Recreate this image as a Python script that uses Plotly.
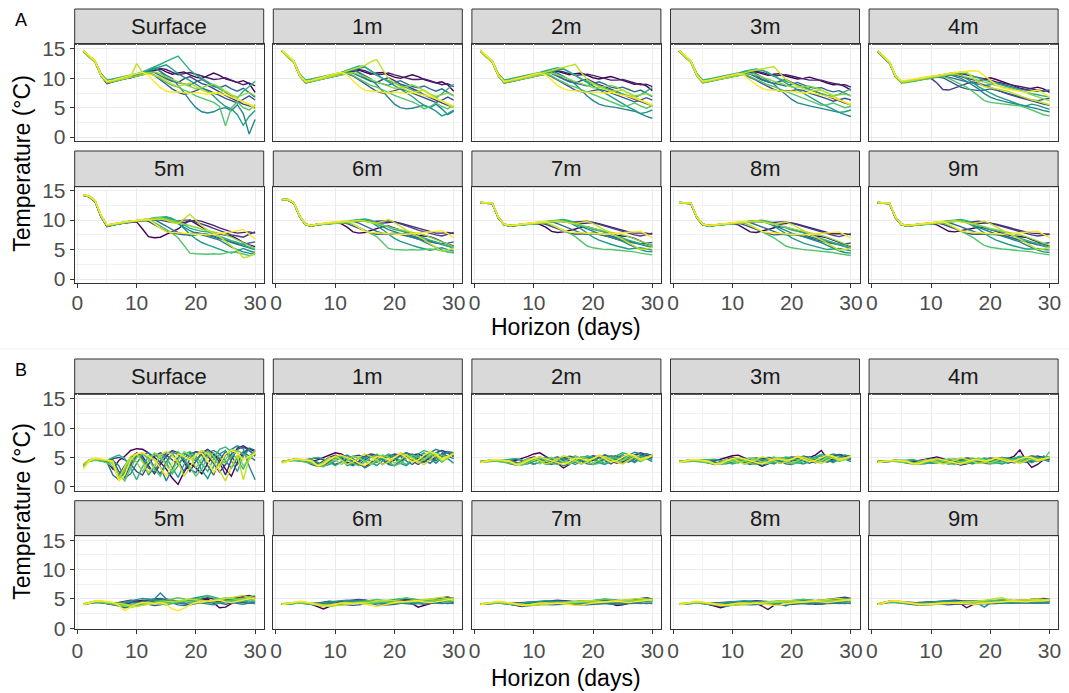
import plotly.graph_objects as go

days = list(range(1, 31))
depths = ["Surface", "1m", "2m", "3m", "4m", "5m", "6m", "7m", "8m", "9m"]
# viridis(12) palette for the ensemble members
viridis12 = ["#440154", "#482173", "#433E85", "#38598C", "#2D708E", "#25858E",
             "#1E9B8A", "#2BB07F", "#51C56A", "#85D54A", "#C2DF23", "#FDE725"]
main_idx = [0, 2, 4, 5, 7, 8, 10, 11]   # colours of the 8 main members
extra_idx = [1, 3, 6, 9]                # colours of the 4 extra members
x_ticks = [0, 10, 20, 30]
y_ticks = [0, 5, 10, 15]
panel_labels = ["A", "B"]
x_title = "Horizon (days)"
y_title = "Temperature (°C)"

# ---------------- Panel A ----------------
A_surface = [
    [14.6,13.7,12.8,10.4,9.1,9.4,9.7,9.9,10.1,10.4,10.7,11.0,11.3,11.6,11.1,10.7,10.9,11.1,10.6,10.2,10.0,10.4,10.9,10.5,9.9,9.6,9.3,9.6,9.1,7.6],
    [14.7,13.8,12.9,10.5,9.3,9.5,9.7,9.9,10.1,10.3,10.6,11.1,11.8,11.2,10.1,9.6,9.3,9.9,10.3,9.7,9.1,8.8,8.3,7.7,7.1,6.6,6.1,5.6,5.3,5.0],
    [14.7,13.6,12.8,10.6,9.5,9.7,9.9,10.1,10.4,10.6,10.9,11.2,11.0,10.4,9.9,9.5,9.3,9.0,8.8,9.4,9.8,9.2,8.6,8.4,8.8,8.2,7.8,8.3,7.6,6.8],
    [14.7,13.7,12.9,10.7,9.6,9.8,10.0,10.2,10.3,10.6,11.0,11.4,11.8,11.2,10.5,10.0,8.8,7.6,6.2,5.0,4.3,4.1,4.3,4.8,5.0,4.5,5.5,4.0,0.5,3.0],
    [14.8,13.8,13.0,10.8,9.7,9.9,10.1,10.3,10.5,10.8,11.1,11.5,12.0,12.4,12.9,13.4,13.8,12.6,11.4,10.6,10.0,9.4,8.8,8.2,7.5,7.0,6.6,7.8,8.6,9.5],
    [14.6,13.6,12.7,10.4,9.2,9.4,9.6,9.9,10.2,10.5,10.8,11.0,10.6,9.9,9.3,8.8,8.5,8.0,7.6,7.0,6.6,6.3,5.9,5.2,1.9,5.0,6.0,5.0,4.6,5.5],
    [14.7,13.7,12.8,10.5,9.4,9.6,9.8,10.0,10.3,12.5,11.0,10.8,10.5,10.2,9.6,9.0,8.6,8.9,9.2,8.6,8.0,7.6,7.3,7.6,7.9,7.2,6.5,6.0,5.5,4.8],
    [14.8,13.9,13.0,10.6,9.5,9.7,10.0,10.2,10.5,10.8,11.0,10.5,9.4,8.4,7.8,7.6,7.7,7.5,7.4,7.6,7.5,7.3,7.6,7.4,7.2,6.8,6.4,6.0,5.6,5.2],
]
A_surface_extra = [
    [14.6,13.7,12.8,10.5,9.3,9.5,9.7,9.9,10.2,10.5,10.8,11.1,11.4,11.7,11.5,11.0,10.6,10.8,11.0,10.7,10.4,10.1,9.8,9.9,10.1,9.7,9.3,8.9,9.2,8.7],
    [14.7,13.8,12.9,10.6,9.4,9.6,9.8,10.0,10.2,10.4,10.6,10.9,10.5,9.8,9.0,8.2,7.6,7.3,7.5,7.9,8.3,8.0,7.6,7.1,6.6,6.2,5.8,6.4,7.0,6.3],
    [14.7,13.7,12.9,10.6,9.5,9.7,9.9,10.1,10.4,10.7,11.0,11.3,11.7,12.0,12.3,11.6,10.8,10.2,9.6,9.0,8.4,7.8,7.0,6.0,5.2,4.8,3.8,2.0,3.5,4.5],
    [14.6,13.6,12.8,10.4,9.3,9.5,9.7,9.9,10.1,10.3,10.6,10.9,11.1,10.8,10.2,9.8,9.4,9.0,8.6,8.2,8.4,8.8,9.0,8.5,7.8,7.2,6.8,7.2,7.6,7.0],
]
A_1m = [
    [14.6,13.7,12.8,10.4,9.2,9.5,9.7,9.9,10.1,10.4,10.7,11.0,11.2,11.4,11.0,10.7,10.9,11.0,10.6,10.2,10.0,10.3,10.6,10.3,9.8,9.5,9.2,9.4,8.9,7.8],
    [14.7,13.8,12.9,10.5,9.3,9.5,9.7,9.9,10.1,10.3,10.6,11.0,11.4,11.0,10.1,9.6,9.3,9.8,10.1,9.6,9.0,8.7,8.3,7.8,7.2,6.7,6.2,5.8,5.4,5.1],
    [14.7,13.6,12.8,10.6,9.5,9.7,9.9,10.1,10.4,10.6,10.9,11.1,10.9,10.4,9.9,9.5,9.3,9.0,8.8,9.3,9.6,9.1,8.6,8.4,8.7,8.2,7.8,8.2,7.6,7.0],
    [14.7,13.7,12.9,10.7,9.6,9.8,10.0,10.2,10.3,10.6,10.9,11.2,11.5,11.0,10.4,9.9,8.9,7.8,6.6,5.6,5.0,4.8,4.9,5.2,5.4,5.0,5.6,4.8,3.8,4.4],
    [14.8,13.8,13.0,10.8,9.7,9.9,10.1,10.3,10.5,10.7,11.0,11.4,11.8,12.1,12.0,11.2,10.5,10.0,9.6,9.2,8.8,8.4,8.0,7.6,7.2,6.8,6.6,7.4,8.2,9.0],
    [14.6,13.6,12.7,10.4,9.2,9.4,9.6,9.9,10.2,10.5,10.8,10.9,10.5,9.9,9.3,8.8,8.5,8.0,7.6,7.1,6.7,6.4,6.0,5.5,4.8,5.2,5.8,5.2,4.8,5.4],
    [14.7,13.7,12.8,10.5,9.4,9.6,9.8,10.0,10.3,10.6,10.9,11.2,11.5,11.8,12.2,12.8,13.2,11.5,10.0,9.2,8.6,8.0,7.6,7.8,8.0,7.3,6.6,6.1,5.6,5.0],
    [14.8,13.9,13.0,10.6,9.5,9.7,10.0,10.2,10.5,10.8,11.0,10.6,9.6,8.6,8.0,7.8,7.8,7.6,7.5,7.7,7.6,7.4,7.6,7.4,7.2,6.9,6.5,6.1,5.7,5.3],
]
A_1m_extra = [
    [14.6,13.7,12.8,10.5,9.3,9.5,9.7,9.9,10.2,10.5,10.8,11.0,11.3,11.5,11.3,10.9,10.6,10.7,10.9,10.6,10.3,10.0,9.8,9.8,9.9,9.6,9.2,8.9,9.1,8.6],
    [14.7,13.8,12.9,10.6,9.4,9.6,9.8,10.0,10.2,10.4,10.6,10.8,10.4,9.8,9.1,8.4,7.8,7.5,7.6,7.9,8.2,7.9,7.5,7.1,6.7,6.3,5.9,6.3,6.8,6.3],
    [14.7,13.7,12.9,10.6,9.5,9.7,9.9,10.1,10.4,10.7,11.0,11.2,11.5,11.7,11.9,11.3,10.6,10.0,9.4,8.8,8.2,7.6,6.9,6.1,5.4,5.0,4.4,3.6,4.0,4.6],
    [14.6,13.6,12.8,10.4,9.3,9.5,9.7,9.9,10.1,10.3,10.6,10.8,11.0,10.7,10.2,9.8,9.4,9.0,8.7,8.3,8.4,8.7,8.9,8.5,7.9,7.3,6.9,7.2,7.5,7.0],
]
A_2m = [
    [14.6,13.7,12.8,10.4,9.2,9.4,9.6,9.8,10.0,10.3,10.6,10.9,11.1,11.2,10.9,10.6,10.8,10.9,10.5,10.1,9.9,10.1,10.3,10.0,9.6,9.3,9.0,9.1,8.7,7.9],
    [14.7,13.8,12.9,10.5,9.3,9.5,9.7,9.9,10.1,10.3,10.5,10.8,11.0,10.6,9.9,9.5,9.2,9.6,9.9,9.4,8.9,8.6,8.2,7.8,7.3,6.8,6.4,6.0,5.6,5.3],
    [14.7,13.6,12.8,10.6,9.5,9.7,9.9,10.1,10.3,10.5,10.8,11.0,10.8,10.3,9.8,9.4,9.2,8.9,8.7,9.1,9.4,9.0,8.5,8.3,8.5,8.1,7.7,8.0,7.5,6.9],
    [14.7,13.7,12.9,10.7,9.6,9.8,10.0,10.1,10.3,10.5,10.8,11.1,11.3,10.9,10.3,9.8,9.0,8.0,7.0,6.2,5.6,5.3,5.2,5.0,4.8,4.6,4.4,4.0,3.5,3.2],
    [14.8,13.8,13.0,10.8,9.7,9.9,10.1,10.3,10.5,10.7,11.0,11.3,11.6,11.8,11.6,11.0,10.4,9.9,9.5,9.1,8.7,8.4,8.0,7.6,7.3,7.0,6.7,7.2,7.8,8.4],
    [14.6,13.6,12.7,10.4,9.2,9.4,9.6,9.9,10.1,10.4,10.7,10.8,10.4,9.8,9.3,8.8,8.5,8.1,7.7,7.2,6.8,6.5,6.1,5.7,5.2,5.4,5.8,5.3,4.9,5.3],
    [14.7,13.7,12.8,10.5,9.4,9.6,9.8,10.0,10.2,10.5,10.8,11.0,11.3,11.6,11.9,12.2,12.4,11.0,9.8,9.1,8.6,8.1,7.8,7.9,8.0,7.4,6.8,6.3,5.8,5.2],
    [14.8,13.9,13.0,10.6,9.5,9.7,9.9,10.2,10.4,10.7,10.9,10.6,9.7,8.8,8.2,7.9,7.9,7.7,7.6,7.7,7.6,7.5,7.6,7.4,7.2,6.9,6.6,6.2,5.8,5.5],
]
A_2m_extra = [
    [14.6,13.7,12.8,10.5,9.3,9.5,9.7,9.9,10.1,10.4,10.7,10.9,11.2,11.3,11.1,10.8,10.5,10.6,10.7,10.5,10.2,9.9,9.7,9.7,9.8,9.5,9.2,8.9,9.0,8.6],
    [14.7,13.8,12.9,10.6,9.4,9.6,9.8,10.0,10.2,10.4,10.6,10.7,10.3,9.7,9.1,8.5,8.0,7.7,7.7,7.9,8.1,7.9,7.5,7.1,6.8,6.4,6.0,6.3,6.7,6.3],
    [14.7,13.7,12.9,10.6,9.5,9.7,9.9,10.1,10.3,10.6,10.9,11.1,11.3,11.5,11.6,11.1,10.5,9.9,9.3,8.7,8.1,7.5,6.9,6.2,5.6,5.1,4.6,4.0,4.2,4.6],
    [14.6,13.6,12.8,10.4,9.3,9.5,9.7,9.9,10.1,10.3,10.5,10.7,10.9,10.6,10.2,9.8,9.4,9.1,8.8,8.4,8.4,8.6,8.8,8.5,8.0,7.4,7.0,7.2,7.4,7.0],
]
A_3m = [
    [14.6,13.7,12.8,10.4,9.3,9.5,9.7,9.8,10.0,10.2,10.5,10.8,11.0,11.1,10.8,10.5,10.7,10.8,10.4,10.1,9.9,10.0,10.2,9.9,9.5,9.2,8.9,9.0,8.6,8.0],
    [14.7,13.8,12.9,10.5,9.4,9.5,9.7,9.9,10.1,10.3,10.5,10.7,10.9,10.5,9.8,9.4,9.1,9.5,9.8,9.3,8.9,8.6,8.2,7.8,7.4,6.9,6.5,6.1,5.8,5.5],
    [14.7,13.6,12.8,10.6,9.5,9.7,9.9,10.0,10.2,10.4,10.7,10.9,10.7,10.2,9.7,9.4,9.2,8.9,8.7,9.0,9.3,8.9,8.5,8.3,8.4,8.0,7.7,7.9,7.4,7.0],
    [14.7,13.7,12.9,10.7,9.6,9.8,9.9,10.1,10.2,10.4,10.7,11.0,11.2,10.8,10.2,9.7,9.0,8.1,7.2,6.4,5.8,5.5,5.3,5.1,4.9,4.7,4.5,4.2,3.8,3.5],
    [14.8,13.8,13.0,10.8,9.7,9.9,10.1,10.2,10.4,10.6,10.9,11.2,11.4,11.6,11.4,10.9,10.3,9.9,9.5,9.1,8.8,8.5,8.1,7.7,7.4,7.1,6.9,7.3,7.7,8.2],
    [14.6,13.6,12.7,10.4,9.2,9.4,9.6,9.8,10.0,10.3,10.6,10.7,10.3,9.8,9.3,8.9,8.6,8.2,7.8,7.3,6.9,6.6,6.2,5.8,5.4,5.5,5.8,5.4,5.0,5.2],
    [14.7,13.7,12.8,10.5,9.4,9.6,9.8,10.0,10.2,10.4,10.7,10.9,11.2,11.4,11.7,11.9,12.0,10.9,9.8,9.2,8.7,8.2,7.9,8.0,8.0,7.5,6.9,6.4,5.9,5.4],
    [14.8,13.9,13.0,10.6,9.5,9.7,9.9,10.1,10.3,10.6,10.8,10.5,9.7,8.9,8.3,8.0,8.0,7.8,7.7,7.8,7.6,7.5,7.6,7.4,7.2,7.0,6.7,6.3,5.9,5.6],
]
A_3m_extra = [
    [14.6,13.7,12.8,10.5,9.3,9.5,9.7,9.9,10.1,10.3,10.6,10.8,11.0,11.2,11.0,10.7,10.4,10.5,10.6,10.4,10.1,9.9,9.7,9.7,9.7,9.4,9.1,8.9,8.9,8.5],
    [14.7,13.8,12.9,10.6,9.4,9.6,9.8,10.0,10.2,10.3,10.5,10.6,10.2,9.7,9.1,8.6,8.1,7.8,7.8,7.9,8.1,7.9,7.5,7.2,6.8,6.5,6.1,6.3,6.6,6.3],
    [14.7,13.7,12.9,10.6,9.5,9.7,9.9,10.1,10.3,10.5,10.8,11.0,11.2,11.4,11.4,11.0,10.4,9.8,9.2,8.6,8.0,7.5,6.9,6.3,5.7,5.2,4.7,4.2,4.3,4.6],
    [14.6,13.6,12.8,10.4,9.3,9.5,9.7,9.9,10.1,10.3,10.5,10.6,10.8,10.6,10.2,9.8,9.5,9.2,8.9,8.5,8.5,8.6,8.7,8.4,8.0,7.5,7.1,7.2,7.3,7.0],
]
A_4m = [
    [14.5,13.6,12.6,10.3,9.3,9.4,9.6,9.8,9.9,10.1,10.2,10.4,10.5,10.6,10.3,10.0,9.8,9.6,9.9,10.1,9.8,9.5,9.1,8.7,8.3,8.1,8.3,8.5,8.2,7.6],
    [14.5,13.6,12.6,10.3,9.3,9.4,9.5,9.7,9.9,10.0,9.2,8.1,8.0,8.3,8.7,9.1,9.4,9.2,8.8,8.4,8.0,7.6,7.3,7.0,6.7,6.4,6.1,5.8,5.6,5.4],
    [14.6,13.7,12.7,10.4,9.4,9.5,9.7,9.8,10.0,10.1,10.3,10.4,10.2,9.9,9.6,9.4,9.2,9.0,8.8,8.9,9.2,9.0,8.7,8.4,8.2,8.0,7.9,7.8,7.9,8.0],
    [14.6,13.6,12.7,10.4,9.4,9.5,9.7,9.9,10.0,10.2,10.4,10.6,10.7,10.4,10.0,9.5,8.9,8.2,7.4,6.8,6.4,6.1,5.9,5.7,5.5,5.3,5.1,4.8,4.5,4.3],
    [14.7,13.7,12.8,10.5,9.5,9.6,9.8,10.0,10.1,10.3,10.4,10.6,10.8,10.9,11.0,10.8,10.4,10.0,9.7,9.4,9.1,8.9,8.6,8.3,8.0,7.7,7.4,7.2,7.0,6.8],
    [14.5,13.5,12.5,10.2,9.2,9.3,9.5,9.7,9.8,10.0,10.2,10.3,10.0,9.5,9.0,8.5,7.8,7.0,6.2,5.9,5.8,5.7,5.6,5.5,5.3,5.0,4.6,4.2,3.8,3.6],
    [14.6,13.7,12.7,10.4,9.4,9.5,9.7,9.9,10.0,10.2,10.4,10.6,10.8,10.9,11.0,11.1,10.2,9.2,8.6,8.4,8.3,8.1,7.8,7.4,7.0,6.6,6.3,6.1,5.8,5.5],
    [14.7,13.8,12.8,10.5,9.6,9.7,9.9,10.1,10.2,10.4,10.5,10.6,10.8,11.0,11.1,11.2,11.3,11.2,10.4,9.6,8.9,8.4,8.2,8.0,7.8,7.6,7.8,8.0,7.5,6.8],
]
A_4m_extra = [
    [14.5,13.6,12.6,10.3,9.3,9.4,9.6,9.8,9.9,10.1,10.3,10.5,10.7,10.9,10.8,10.6,10.4,10.2,10.0,9.7,9.4,9.2,9.0,8.8,8.6,8.4,8.2,8.0,7.8,7.9],
    [14.6,13.7,12.7,10.4,9.4,9.5,9.7,9.8,10.0,10.1,10.2,10.1,9.6,9.0,8.5,8.2,8.0,7.9,8.0,8.2,8.0,7.7,7.4,7.1,6.8,6.5,6.3,6.2,6.4,6.6],
    [14.6,13.6,12.7,10.4,9.4,9.5,9.7,9.9,10.1,10.3,10.5,10.7,10.9,11.0,10.6,10.0,9.3,8.6,8.0,7.5,7.0,6.6,6.2,5.8,5.5,5.3,5.6,5.4,5.0,4.7],
    [14.6,13.7,12.7,10.4,9.4,9.5,9.7,9.9,10.0,10.2,10.3,10.5,10.6,10.7,10.5,10.2,9.9,9.6,9.3,9.0,8.7,8.5,8.3,8.1,7.9,7.6,7.2,6.8,6.5,6.2],
]
A_5m = [
    [14.2,14.0,13.2,10.6,8.9,9.2,9.4,9.5,9.6,9.7,8.5,7.2,7.0,7.1,7.6,8.0,8.5,9.3,10.0,9.4,8.8,8.2,7.8,7.6,7.4,7.3,6.8,6.2,5.8,5.5],
    [14.2,13.9,13.1,10.5,9.0,9.2,9.4,9.5,9.7,9.8,9.9,10.0,10.1,10.0,9.8,9.6,9.8,10.0,10.0,9.7,9.4,9.0,8.6,8.2,7.8,7.5,7.3,7.1,7.6,8.0],
    [14.3,14.0,13.2,10.7,9.1,9.3,9.5,9.6,9.8,9.9,10.0,10.2,10.1,9.6,9.0,8.4,7.9,7.6,7.4,7.5,7.7,7.6,7.3,7.0,6.6,6.2,5.9,5.6,5.3,5.0],
    [14.2,14.0,13.2,10.6,9.0,9.2,9.4,9.6,9.7,9.8,10.0,10.1,10.2,10.3,10.4,10.0,9.4,8.8,8.2,7.8,7.5,7.2,7.0,6.6,6.0,5.4,5.0,4.6,4.4,4.3],
    [14.3,14.1,13.3,10.8,9.2,9.4,9.5,9.7,9.8,9.9,10.1,10.2,10.4,10.5,10.6,10.3,9.8,9.2,8.6,8.3,8.1,8.0,7.6,7.2,6.8,6.5,6.2,5.8,5.4,5.0],
    [14.2,14.0,13.2,10.6,9.0,9.2,9.4,9.5,9.7,9.8,9.9,10.0,9.6,9.0,8.4,7.8,7.0,5.6,4.4,4.3,4.2,4.2,4.3,4.2,4.4,4.6,4.5,4.3,4.0,4.2],
    [14.3,14.0,13.2,10.7,9.1,9.3,9.5,9.6,9.8,9.9,10.0,10.1,10.2,10.2,10.0,9.6,9.4,10.2,11.0,10.0,9.0,8.3,7.8,7.2,6.4,5.6,4.8,3.6,3.8,4.4],
    [14.3,14.1,13.3,10.8,9.2,9.4,9.6,9.7,9.8,10.0,10.1,10.2,9.4,8.6,8.0,7.9,7.9,7.8,7.7,7.6,7.6,7.5,7.6,7.7,7.9,8.0,8.2,8.4,7.6,6.8],
]
A_5m_extra = [
    [14.2,14.0,13.2,10.6,9.0,9.2,9.4,9.6,9.7,9.8,9.9,10.0,10.1,10.2,10.1,9.9,9.7,9.6,9.8,10.0,9.8,9.5,9.1,8.7,8.3,8.0,7.8,7.9,8.0,7.8],
    [14.3,14.0,13.2,10.7,9.1,9.3,9.5,9.6,9.8,9.9,10.0,9.8,9.2,8.6,8.1,7.8,7.6,7.5,7.7,7.9,7.7,7.4,7.1,6.8,6.5,6.2,6.0,5.9,6.1,6.3],
    [14.2,14.0,13.2,10.6,9.0,9.2,9.4,9.6,9.8,9.9,10.0,10.1,10.2,10.4,10.5,10.2,9.5,8.6,7.6,6.8,6.2,5.8,5.4,5.0,4.7,4.4,4.8,5.2,4.8,4.5],
    [14.3,14.1,13.3,10.7,9.2,9.4,9.5,9.7,9.8,9.9,10.0,10.2,10.3,10.4,10.2,9.9,9.6,9.3,9.0,8.7,8.4,8.2,8.0,7.8,7.5,7.1,6.6,6.1,5.6,5.2],
]
A_6m = [
    [13.4,13.4,12.9,10.6,9.2,9.0,9.2,9.3,9.4,9.5,9.4,8.8,8.0,7.8,7.9,8.2,8.6,8.9,9.0,8.7,8.3,7.9,7.6,7.4,7.3,7.2,6.8,6.3,5.9,5.6],
    [13.5,13.5,13.0,10.7,9.3,9.1,9.3,9.4,9.5,9.6,9.7,9.8,9.9,9.9,9.8,9.7,9.8,9.9,9.9,9.7,9.4,9.1,8.7,8.3,8.0,7.7,7.5,7.3,7.6,7.9],
    [13.5,13.5,13.0,10.7,9.3,9.1,9.3,9.4,9.5,9.6,9.7,9.8,9.8,9.5,9.0,8.5,8.1,7.8,7.6,7.6,7.7,7.6,7.3,7.0,6.7,6.4,6.1,5.8,5.5,5.3],
    [13.4,13.4,12.9,10.6,9.2,9.0,9.2,9.3,9.5,9.6,9.7,9.8,9.9,10.0,10.0,9.8,9.4,8.9,8.4,8.0,7.7,7.4,7.1,6.8,6.3,5.8,5.3,4.9,4.6,4.5],
    [13.5,13.5,13.0,10.7,9.3,9.1,9.3,9.4,9.6,9.7,9.8,9.9,10.0,10.1,10.2,10.0,9.6,9.1,8.7,8.4,8.2,8.0,7.7,7.3,6.9,6.6,6.3,5.9,5.6,5.3],
    [13.4,13.4,12.9,10.6,9.2,9.0,9.2,9.3,9.4,9.5,9.6,9.6,9.3,8.8,8.3,7.8,7.2,6.2,5.2,5.0,4.9,4.9,5.0,4.9,5.0,5.1,5.0,4.8,4.5,4.4],
    [13.5,13.5,13.0,10.7,9.3,9.1,9.3,9.4,9.5,9.6,9.7,9.8,9.9,9.9,9.8,9.6,9.5,9.8,10.1,9.6,8.9,8.3,7.8,7.3,6.7,6.0,5.4,4.7,4.9,5.3],
    [13.5,13.5,13.0,10.7,9.3,9.1,9.3,9.5,9.6,9.7,9.8,9.9,9.4,8.7,8.1,7.9,7.9,7.8,7.7,7.6,7.6,7.6,7.7,7.8,7.9,8.0,8.1,8.2,7.7,7.0],
]
A_6m_extra = [
    [13.4,13.4,12.9,10.6,9.2,9.0,9.2,9.3,9.5,9.6,9.7,9.8,9.9,10.0,9.9,9.8,9.6,9.5,9.6,9.7,9.5,9.2,8.9,8.6,8.3,8.0,7.8,7.8,7.9,7.7],
    [13.5,13.5,13.0,10.7,9.3,9.1,9.3,9.4,9.5,9.6,9.6,9.4,9.0,8.5,8.1,7.8,7.6,7.6,7.7,7.8,7.6,7.4,7.1,6.8,6.5,6.3,6.1,6.0,6.1,6.3],
    [13.4,13.4,12.9,10.6,9.2,9.0,9.2,9.3,9.5,9.6,9.7,9.8,9.9,10.0,10.0,9.7,9.1,8.4,7.6,6.9,6.4,6.0,5.7,5.4,5.1,4.9,5.1,5.3,5.0,4.8],
    [13.5,13.5,13.0,10.7,9.3,9.1,9.3,9.4,9.6,9.7,9.8,9.9,10.0,10.0,9.8,9.6,9.4,9.2,8.9,8.6,8.4,8.2,8.0,7.8,7.5,7.1,6.7,6.2,5.8,5.5],
]
A_7m = [
    [12.9,12.9,12.8,10.4,9.2,9.0,9.1,9.2,9.3,9.4,9.3,8.8,8.1,7.9,8.0,8.2,8.5,8.8,8.9,8.6,8.3,7.9,7.6,7.4,7.3,7.2,6.9,6.4,6.0,5.7],
    [13.0,13.0,12.9,10.5,9.3,9.1,9.2,9.3,9.4,9.5,9.6,9.7,9.8,9.8,9.7,9.6,9.7,9.8,9.8,9.6,9.3,9.0,8.7,8.3,8.0,7.7,7.5,7.3,7.5,7.8],
    [13.0,13.0,12.9,10.5,9.3,9.1,9.2,9.3,9.4,9.5,9.6,9.7,9.7,9.4,9.0,8.5,8.1,7.8,7.6,7.6,7.7,7.6,7.3,7.0,6.7,6.4,6.1,5.8,5.6,5.4],
    [12.9,12.9,12.8,10.4,9.2,9.0,9.1,9.2,9.4,9.5,9.6,9.7,9.8,9.9,9.9,9.7,9.3,8.9,8.4,8.0,7.7,7.4,7.1,6.8,6.4,5.9,5.4,5.0,4.7,4.6],
    [13.0,13.0,12.9,10.5,9.3,9.1,9.2,9.3,9.5,9.6,9.7,9.8,9.9,10.0,10.1,9.9,9.5,9.1,8.7,8.4,8.2,8.0,7.7,7.3,6.9,6.6,6.3,6.0,5.7,5.4],
    [12.9,12.9,12.8,10.4,9.2,9.0,9.1,9.2,9.3,9.4,9.5,9.5,9.2,8.8,8.3,7.8,7.2,6.4,5.6,5.3,5.1,5.0,5.0,4.9,4.9,4.8,4.6,4.4,4.2,4.1],
    [13.0,13.0,12.9,10.5,9.3,9.1,9.2,9.3,9.4,9.5,9.6,9.7,9.8,9.8,9.7,9.5,9.4,9.6,9.8,9.4,8.8,8.3,7.8,7.3,6.8,6.2,5.6,5.0,5.1,5.4],
    [13.0,13.0,12.9,10.5,9.3,9.1,9.2,9.4,9.5,9.6,9.7,9.8,9.3,8.7,8.2,8.0,7.9,7.8,7.7,7.7,7.7,7.6,7.7,7.8,7.9,8.0,8.0,8.1,7.6,7.0],
]
A_7m_extra = [
    [12.9,12.9,12.8,10.4,9.2,9.0,9.1,9.2,9.4,9.5,9.6,9.7,9.8,9.9,9.8,9.7,9.5,9.4,9.5,9.6,9.4,9.1,8.8,8.5,8.2,8.0,7.8,7.8,7.8,7.6],
    [13.0,13.0,12.9,10.5,9.3,9.1,9.2,9.3,9.4,9.5,9.5,9.3,8.9,8.5,8.1,7.8,7.6,7.6,7.7,7.8,7.6,7.4,7.1,6.8,6.5,6.3,6.1,6.0,6.1,6.2],
    [12.9,12.9,12.8,10.4,9.2,9.0,9.1,9.2,9.4,9.5,9.6,9.7,9.8,9.9,9.9,9.6,9.1,8.5,7.8,7.1,6.6,6.2,5.9,5.6,5.3,5.1,5.2,5.3,5.1,4.9],
    [13.0,13.0,12.9,10.5,9.3,9.1,9.2,9.3,9.5,9.6,9.7,9.8,9.9,9.9,9.8,9.6,9.4,9.2,8.9,8.6,8.4,8.2,8.0,7.8,7.5,7.2,6.8,6.4,6.0,5.7],
]
A_8m = [
    [12.9,12.9,12.8,10.4,9.2,9.0,9.1,9.2,9.3,9.4,9.2,8.6,8.0,7.9,8.1,8.4,8.7,8.9,8.8,8.5,8.1,7.8,7.5,7.3,7.2,7.0,6.6,6.2,5.8,5.5],
    [13.0,13.0,12.9,10.5,9.3,9.1,9.2,9.3,9.4,9.5,9.6,9.7,9.8,9.8,9.7,9.6,9.6,9.7,9.7,9.5,9.2,8.9,8.5,8.2,7.9,7.6,7.4,7.2,7.4,7.7],
    [13.0,13.0,12.9,10.5,9.3,9.1,9.2,9.3,9.4,9.5,9.6,9.7,9.6,9.2,8.8,8.4,8.0,7.7,7.5,7.5,7.6,7.5,7.2,6.9,6.6,6.3,6.0,5.7,5.5,5.2],
    [12.9,12.9,12.8,10.4,9.2,9.0,9.1,9.2,9.4,9.5,9.6,9.7,9.8,9.9,9.8,9.5,9.1,8.7,8.2,7.8,7.5,7.2,6.9,6.6,6.2,5.7,5.2,4.8,4.5,4.4],
    [13.0,13.0,12.9,10.5,9.3,9.1,9.2,9.3,9.5,9.6,9.7,9.8,9.9,10.0,10.0,9.8,9.4,9.0,8.6,8.3,8.1,7.9,7.6,7.2,6.8,6.5,6.2,5.9,5.6,5.3],
    [12.9,12.9,12.8,10.4,9.2,9.0,9.1,9.2,9.3,9.4,9.5,9.5,9.1,8.6,8.1,7.6,7.0,6.3,5.6,5.3,5.1,5.0,4.9,4.8,4.8,4.7,4.5,4.3,4.1,4.0],
    [13.0,13.0,12.9,10.5,9.3,9.1,9.2,9.3,9.4,9.5,9.6,9.7,9.8,9.8,9.7,9.5,9.3,9.5,9.7,9.3,8.7,8.2,7.7,7.2,6.7,6.1,5.5,4.9,5.0,5.3],
    [13.0,13.0,12.9,10.5,9.3,9.1,9.2,9.4,9.5,9.6,9.7,9.8,9.2,8.6,8.1,7.9,7.8,7.7,7.6,7.6,7.6,7.5,7.6,7.7,7.8,7.9,7.9,8.0,7.5,6.9],
]
A_8m_extra = [
    [12.9,12.9,12.8,10.4,9.2,9.0,9.1,9.2,9.4,9.5,9.6,9.7,9.8,9.8,9.7,9.6,9.4,9.3,9.4,9.5,9.3,9.0,8.7,8.4,8.1,7.9,7.7,7.7,7.7,7.5],
    [13.0,13.0,12.9,10.5,9.3,9.1,9.2,9.3,9.4,9.5,9.5,9.2,8.8,8.4,8.0,7.7,7.5,7.5,7.6,7.7,7.5,7.3,7.0,6.7,6.4,6.2,6.0,5.9,6.0,6.1],
    [12.9,12.9,12.8,10.4,9.2,9.0,9.1,9.2,9.4,9.5,9.6,9.7,9.8,9.9,9.8,9.5,9.0,8.4,7.7,7.0,6.5,6.1,5.8,5.5,5.2,5.0,5.1,5.2,5.0,4.8],
    [13.0,13.0,12.9,10.5,9.3,9.1,9.2,9.3,9.5,9.6,9.7,9.8,9.9,9.9,9.8,9.6,9.3,9.1,8.8,8.5,8.3,8.1,7.9,7.7,7.4,7.1,6.7,6.3,5.9,5.6],
]
A_9m = [
    [12.9,12.9,12.8,10.4,9.2,9.0,9.1,9.2,9.3,9.4,9.2,8.7,8.1,8.0,8.2,8.5,8.7,8.8,8.7,8.4,8.0,7.7,7.5,7.3,7.2,7.1,6.7,6.3,5.9,5.6],
    [13.0,13.0,12.9,10.5,9.3,9.1,9.2,9.3,9.4,9.5,9.6,9.7,9.8,9.9,9.8,9.7,9.7,9.8,9.7,9.5,9.2,8.9,8.6,8.3,8.0,7.7,7.5,7.3,7.4,7.6],
    [13.0,13.0,12.9,10.5,9.3,9.1,9.2,9.3,9.4,9.5,9.6,9.7,9.6,9.3,8.9,8.5,8.1,7.8,7.6,7.6,7.6,7.5,7.2,6.9,6.6,6.3,6.0,5.8,5.6,5.3],
    [12.9,12.9,12.8,10.4,9.2,9.0,9.1,9.2,9.4,9.5,9.6,9.7,9.8,9.9,9.9,9.6,9.2,8.8,8.3,7.9,7.6,7.3,7.0,6.7,6.3,5.8,5.3,4.9,4.6,4.5],
    [13.0,13.0,12.9,10.5,9.3,9.1,9.2,9.3,9.5,9.6,9.7,9.8,9.9,10.0,10.1,9.9,9.5,9.1,8.7,8.4,8.2,8.0,7.7,7.3,6.9,6.6,6.3,6.0,5.7,5.4],
    [12.9,12.9,12.8,10.4,9.2,9.0,9.1,9.2,9.3,9.4,9.5,9.5,9.2,8.7,8.2,7.7,7.1,6.4,5.7,5.4,5.2,5.1,5.0,4.9,4.9,4.8,4.6,4.4,4.2,4.1],
    [13.0,13.0,12.9,10.5,9.3,9.1,9.2,9.3,9.4,9.5,9.6,9.7,9.8,9.8,9.7,9.5,9.4,9.6,9.8,9.4,8.8,8.3,7.8,7.3,6.8,6.2,5.6,5.0,5.1,5.4],
    [13.0,13.0,12.9,10.5,9.3,9.1,9.2,9.4,9.5,9.6,9.7,9.8,9.3,8.7,8.2,8.0,7.9,7.8,7.7,7.7,7.7,7.6,7.7,7.8,7.9,8.0,8.0,8.1,7.6,7.0],
]
A_9m_extra = [
    [12.9,12.9,12.8,10.4,9.2,9.0,9.1,9.2,9.4,9.5,9.6,9.7,9.8,9.9,9.8,9.7,9.5,9.4,9.5,9.5,9.3,9.1,8.8,8.5,8.2,8.0,7.8,7.7,7.7,7.6],
    [13.0,13.0,12.9,10.5,9.3,9.1,9.2,9.3,9.4,9.5,9.5,9.3,8.9,8.5,8.1,7.8,7.6,7.6,7.6,7.7,7.6,7.4,7.1,6.8,6.5,6.3,6.1,6.0,6.0,6.2],
    [12.9,12.9,12.8,10.4,9.2,9.0,9.1,9.2,9.4,9.5,9.6,9.7,9.8,9.9,9.9,9.6,9.1,8.5,7.8,7.1,6.6,6.2,5.9,5.6,5.3,5.1,5.1,5.2,5.0,4.9],
    [13.0,13.0,12.9,10.5,9.3,9.1,9.2,9.3,9.5,9.6,9.7,9.8,9.9,9.9,9.8,9.6,9.4,9.2,8.9,8.6,8.4,8.2,8.0,7.8,7.5,7.2,6.8,6.4,6.0,5.7],
]

# ---------------- Panel B ----------------
B_surface = [
    [3.6,4.5,4.6,4.4,4.2,3.0,4.5,5.2,6.2,6.5,6.4,5.8,5.0,4.2,3.0,1.5,0.4,2.5,4.0,3.2,2.2,4.0,5.5,4.8,3.0,1.8,4.2,5.8,6.5,6.0],
    [3.8,4.6,4.7,4.5,4.4,4.8,5.0,4.6,3.8,2.6,2.0,3.8,5.2,5.8,5.4,4.6,3.8,5.0,5.6,6.0,5.8,5.2,4.0,2.5,3.8,5.6,6.4,6.8,6.2,5.5],
    [3.5,4.4,4.6,4.5,4.2,2.0,1.2,2.8,4.6,5.4,4.8,3.2,2.5,4.4,5.8,6.0,5.5,4.6,3.0,2.4,4.2,5.8,6.2,5.6,4.4,3.2,5.0,6.0,5.2,4.5],
    [3.7,4.5,4.7,4.6,4.3,4.5,3.6,1.5,2.2,4.0,5.5,5.8,4.6,3.4,1.0,3.0,5.0,5.8,5.2,4.4,5.6,6.2,5.0,3.6,5.4,6.4,7.0,6.5,3.5,1.2],
    [3.8,4.6,4.8,4.6,4.5,5.0,5.4,4.8,3.2,1.2,3.4,5.2,5.5,4.8,4.2,2.2,3.6,5.4,6.0,5.2,3.8,2.6,4.8,6.4,6.8,6.0,4.6,3.0,5.2,6.0],
    [3.4,4.3,4.5,4.4,4.1,3.4,2.2,1.0,3.2,5.0,5.6,4.8,3.0,1.8,3.8,5.6,6.0,5.0,3.4,1.8,3.0,5.2,5.8,5.0,4.0,5.2,6.2,5.6,4.8,5.6],
    [3.9,4.6,4.8,4.7,4.6,4.4,1.4,3.5,5.2,5.6,4.2,2.4,3.6,5.4,6.0,5.4,4.2,1.8,3.2,5.4,6.2,5.6,4.4,2.6,1.0,3.4,5.4,1.2,4.8,5.8],
    [3.0,4.4,4.9,4.8,4.6,4.2,1.0,2.0,4.6,5.6,5.8,5.2,4.6,3.2,1.8,4.0,5.6,5.2,4.6,5.4,5.8,4.4,2.4,3.8,5.6,6.2,5.8,4.6,5.2,5.6],
]
B_surface_extra = [
    [3.7,4.5,4.7,4.5,4.3,3.2,2.0,3.6,5.0,5.8,5.2,3.6,2.2,3.8,5.2,6.2,5.8,4.2,2.6,4.4,5.8,6.4,5.6,4.2,2.0,4.6,6.6,7.0,6.4,5.2],
    [3.6,4.4,4.6,4.5,4.4,4.6,2.6,1.6,3.8,5.2,5.8,5.0,3.4,2.2,4.2,5.6,4.4,2.6,4.8,6.0,5.4,3.6,2.0,4.6,6.0,5.2,3.8,5.6,6.6,6.2],
    [3.8,4.6,4.8,4.6,4.5,4.2,1.8,2.4,4.2,5.6,4.6,2.0,3.4,5.4,5.0,3.2,1.6,3.8,5.6,4.8,2.8,1.4,3.6,5.6,6.2,4.4,2.6,5.2,6.4,5.4],
    [3.5,4.4,4.7,4.6,4.5,3.8,1.2,3.0,5.0,4.2,2.6,4.4,5.8,5.2,3.6,2.6,4.6,6.0,5.4,3.2,4.8,6.0,5.2,3.4,4.6,6.4,6.0,3.6,4.6,6.2],
]
B_1m = [
    [4.2,4.4,4.6,4.5,4.4,4.3,4.6,5.0,5.5,5.8,5.6,5.0,4.4,3.8,3.5,3.9,4.6,5.0,5.2,4.8,4.4,4.8,5.4,5.6,5.2,4.6,5.0,5.6,6.0,5.6],
    [4.3,4.5,4.6,4.5,4.6,4.8,4.9,4.6,4.2,3.8,4.2,4.8,5.2,5.4,5.0,4.4,4.2,4.8,5.2,5.6,5.4,5.0,4.4,3.8,4.4,5.2,5.8,6.2,5.8,5.2],
    [4.2,4.4,4.5,4.4,4.3,3.8,3.5,4.0,4.6,5.0,4.8,4.0,3.6,4.2,5.0,5.4,5.2,4.6,3.8,3.6,4.4,5.2,5.6,5.2,4.6,4.0,4.8,5.6,5.2,4.8],
    [4.3,4.5,4.6,4.6,4.4,4.5,4.2,3.6,3.8,4.4,5.0,5.4,4.8,4.0,3.2,3.8,4.8,5.4,5.2,4.8,5.2,5.8,5.2,4.4,5.0,5.8,6.4,6.0,4.8,4.0],
    [4.3,4.5,4.7,4.6,4.5,4.8,5.0,4.8,4.2,3.6,4.2,5.0,5.2,4.8,4.4,3.8,4.2,5.0,5.6,5.2,4.4,3.8,4.6,5.6,6.2,5.8,5.0,4.2,5.0,5.8],
    [4.2,4.4,4.5,4.4,4.2,4.0,3.6,3.4,4.0,4.8,5.2,4.8,4.0,3.6,4.2,5.0,5.6,5.0,4.2,3.6,4.0,4.8,5.4,5.0,4.6,5.2,5.8,5.4,5.0,5.6],
    [4.3,4.5,4.7,4.7,4.6,4.5,3.6,4.0,4.8,5.2,4.6,3.8,4.2,5.0,5.6,5.2,4.6,3.8,4.2,5.0,5.8,5.4,4.8,4.2,3.8,4.6,5.4,4.4,5.0,5.8],
    [4.0,4.4,4.7,4.7,4.6,4.4,3.6,3.8,4.6,5.2,5.4,5.0,4.6,4.0,3.6,4.4,5.2,5.0,4.6,5.0,5.6,5.0,4.2,4.6,5.4,6.0,5.6,4.8,5.2,5.6],
]
B_1m_extra = [
    [4.2,4.4,4.6,4.5,4.4,4.0,3.8,4.4,5.0,5.4,5.0,4.2,3.8,4.4,5.2,5.6,5.4,4.6,4.0,4.6,5.4,5.8,5.4,4.8,4.2,5.0,5.8,6.2,5.8,5.2],
    [4.3,4.5,4.6,4.5,4.5,4.6,4.0,3.6,4.2,5.0,5.4,5.0,4.2,3.8,4.6,5.2,4.6,3.8,4.6,5.4,5.2,4.4,3.8,4.6,5.4,5.0,4.4,5.2,6.0,5.8],
    [4.3,4.5,4.7,4.6,4.5,4.4,3.8,4.0,4.6,5.2,4.8,3.6,4.0,5.0,5.0,4.2,3.6,4.4,5.2,4.8,4.0,3.6,4.4,5.2,5.8,4.8,4.0,5.0,6.0,5.4],
    [4.2,4.4,4.6,4.6,4.5,4.2,3.6,4.2,5.0,4.6,3.8,4.4,5.2,5.0,4.2,3.8,4.6,5.4,5.0,4.0,4.6,5.4,5.0,4.2,4.6,5.6,5.6,4.4,4.8,5.8],
]
B_2m = [
    [4.2,4.4,4.5,4.5,4.4,4.3,4.5,4.8,5.2,5.6,5.8,5.2,4.6,4.0,3.2,3.8,4.6,5.0,5.0,4.7,4.4,4.7,5.1,5.3,5.0,4.6,4.9,5.3,5.6,5.3],
    [4.3,4.4,4.5,4.5,4.5,4.6,4.7,4.5,4.2,3.9,4.2,4.6,4.9,5.1,4.8,4.4,4.2,4.6,5.0,5.3,5.1,4.8,4.4,4.0,4.4,5.0,5.4,5.8,5.5,5.0],
    [4.2,4.3,4.4,4.4,4.3,3.9,3.7,4.0,4.5,4.8,4.6,4.1,3.8,4.2,4.8,5.1,5.0,4.5,3.9,3.8,4.3,4.9,5.3,5.0,4.6,4.2,4.7,5.3,5.0,4.7],
    [4.3,4.4,4.5,4.5,4.4,4.4,4.2,3.8,3.9,4.3,4.8,5.1,4.7,4.1,3.6,3.9,4.6,5.1,5.0,4.7,5.0,5.5,5.0,4.4,4.8,5.4,5.9,5.6,4.8,4.3],
    [4.3,4.5,4.6,4.5,4.5,4.7,4.8,4.6,4.2,3.8,4.2,4.8,5.0,4.7,4.4,4.0,4.2,4.8,5.3,5.0,4.4,4.0,4.5,5.3,5.8,5.5,4.9,4.3,4.9,5.5],
    [4.2,4.3,4.4,4.3,4.2,4.0,3.8,3.7,4.1,4.6,4.9,4.6,4.0,3.8,4.2,4.8,5.3,4.8,4.2,3.8,4.0,4.6,5.1,4.9,4.5,4.9,5.4,5.1,4.8,5.3],
    [4.3,4.5,4.6,4.6,4.5,4.4,3.8,4.0,4.6,4.9,4.5,3.9,4.2,4.8,5.3,5.0,4.5,3.9,4.2,4.8,5.4,5.1,4.6,4.2,3.9,4.5,5.1,4.5,4.9,5.5],
    [4.1,4.4,4.6,4.6,4.5,4.3,3.8,3.9,4.4,4.9,5.1,4.8,4.5,4.1,3.8,4.3,4.9,4.8,4.5,4.8,5.3,4.8,4.2,4.5,5.1,5.6,5.3,4.7,5.0,5.3],
]
B_2m_extra = [
    [4.2,4.4,4.5,4.5,4.4,4.1,3.9,4.3,4.8,5.1,4.8,4.2,3.9,4.3,4.9,5.2,5.0,4.5,4.1,4.5,5.0,5.4,5.1,4.6,4.2,4.8,5.4,5.7,5.4,5.0],
    [4.3,4.4,4.5,4.5,4.5,4.5,4.1,3.8,4.2,4.8,5.1,4.8,4.2,3.9,4.5,5.0,4.5,3.9,4.5,5.1,5.0,4.4,3.9,4.5,5.1,4.8,4.3,5.0,5.6,5.4],
    [4.3,4.5,4.6,4.6,4.5,4.4,3.9,4.0,4.5,5.0,4.7,3.8,4.0,4.8,4.8,4.2,3.8,4.4,5.0,4.7,4.1,3.8,4.4,5.0,5.5,4.7,4.1,4.8,5.6,5.1],
    [4.2,4.4,4.5,4.5,4.4,4.2,3.8,4.2,4.8,4.5,3.9,4.4,5.0,4.8,4.2,3.9,4.5,5.1,4.8,4.1,4.5,5.1,4.8,4.2,4.5,5.3,5.3,4.4,4.7,5.4],
]
B_3m = [
    [4.2,4.4,4.5,4.5,4.4,4.3,4.4,4.7,5.0,5.3,5.4,5.0,4.5,4.0,3.5,3.9,4.5,4.8,4.8,4.6,4.4,4.6,5.0,5.4,6.2,4.8,4.6,5.0,5.3,5.1],
    [4.3,4.4,4.5,4.5,4.5,4.6,4.6,4.5,4.2,4.0,4.2,4.5,4.8,4.9,4.7,4.4,4.2,4.5,4.9,5.1,5.0,4.7,4.4,4.1,4.4,4.9,5.2,5.5,5.3,4.9],
    [4.2,4.3,4.4,4.4,4.3,4.0,3.8,4.0,4.4,4.7,4.5,4.1,3.8,4.1,4.6,4.9,4.8,4.4,3.9,3.8,4.2,4.7,5.1,4.9,4.5,4.2,4.6,5.1,4.9,4.6],
    [4.3,4.4,4.5,4.5,4.4,4.4,4.2,3.9,3.9,4.2,4.6,4.9,4.6,4.1,3.7,3.9,4.5,4.9,4.9,4.6,4.8,5.2,4.9,4.4,4.7,5.2,5.6,5.4,4.7,4.3],
    [4.3,4.5,4.6,4.5,4.5,4.6,4.7,4.5,4.2,3.9,4.2,4.7,4.9,4.6,4.3,4.0,4.2,4.7,5.1,4.9,4.4,4.0,4.4,5.1,5.5,5.3,4.8,4.3,4.8,5.3],
    [4.2,4.3,4.4,4.3,4.2,4.0,3.9,3.8,4.1,4.5,4.8,4.5,4.0,3.8,4.2,4.7,5.1,4.7,4.2,3.9,4.0,4.5,4.9,4.8,4.4,4.8,5.2,5.0,4.7,5.1],
    [4.3,4.5,4.6,4.6,4.5,4.4,3.9,4.0,4.5,4.8,4.4,3.9,4.2,4.7,5.1,4.9,4.5,4.0,4.2,4.7,5.2,5.0,4.6,4.2,4.0,4.5,5.0,4.5,4.8,5.3],
    [4.1,4.4,4.6,4.6,4.5,4.3,3.9,3.9,4.4,4.8,5.0,4.7,4.4,4.1,3.9,4.3,4.8,4.7,4.5,4.7,5.1,4.7,4.3,4.5,5.0,5.4,5.2,4.7,4.9,5.2],
]
B_3m_extra = [
    [4.2,4.4,4.5,4.5,4.4,4.1,4.0,4.3,4.7,5.0,4.7,4.2,4.0,4.3,4.8,5.0,4.9,4.5,4.1,4.4,4.9,5.2,5.0,4.6,4.3,4.7,5.2,5.5,5.2,4.9],
    [4.3,4.4,4.5,4.5,4.5,4.5,4.1,3.9,4.2,4.7,5.0,4.7,4.2,4.0,4.4,4.9,4.5,4.0,4.4,4.9,4.8,4.4,4.0,4.4,4.9,4.7,4.3,4.9,5.4,5.2],
    [4.3,4.5,4.6,4.6,4.5,4.4,4.0,4.1,4.5,4.9,4.6,3.9,4.1,4.7,4.7,4.2,3.9,4.4,4.9,4.6,4.1,3.9,4.3,4.9,5.3,4.6,4.1,4.7,5.4,5.0],
    [4.2,4.4,4.5,4.5,4.4,4.2,3.9,4.2,4.7,4.4,4.0,4.4,4.9,4.7,4.2,4.0,4.5,5.0,4.7,4.1,4.4,5.0,4.7,4.2,4.4,5.1,5.1,4.4,4.6,5.2],
]
B_4m = [
    [4.2,4.3,4.4,4.4,4.3,4.2,4.3,4.5,4.8,5.0,5.1,4.8,4.4,4.0,3.7,3.9,4.3,4.6,4.6,4.4,4.3,4.5,4.8,5.2,6.3,4.5,3.3,3.8,4.6,4.8],
    [4.3,4.4,4.5,4.5,4.4,4.5,4.5,4.4,4.2,4.0,4.1,4.4,4.6,4.7,4.6,4.3,4.2,4.4,4.7,4.9,4.8,4.6,4.3,4.1,4.3,4.7,5.0,5.2,5.0,4.7],
    [4.2,4.3,4.4,4.4,4.3,4.0,3.9,4.0,4.3,4.5,4.4,4.1,3.9,4.1,4.5,4.7,4.6,4.3,4.0,3.9,4.2,4.6,4.9,4.7,4.4,4.2,4.5,4.9,4.8,4.5],
    [4.3,4.4,4.5,4.5,4.4,4.4,4.2,3.9,3.9,4.2,4.5,4.7,4.5,4.1,3.8,4.0,4.4,4.7,4.7,4.5,4.7,5.0,4.8,4.4,4.6,5.0,5.3,5.1,4.6,4.3],
    [4.3,4.4,4.5,4.5,4.5,4.6,4.6,4.4,4.2,4.0,4.2,4.6,4.7,4.5,4.3,4.0,4.2,4.6,4.9,4.7,4.3,4.0,4.3,4.9,5.2,5.0,4.6,4.3,4.7,5.1],
    [4.2,4.3,4.4,4.3,4.2,4.0,3.9,3.8,4.1,4.4,4.6,4.4,4.0,3.8,4.1,4.5,4.9,4.6,4.2,3.9,4.0,4.4,4.7,4.6,4.3,4.6,5.0,4.8,4.6,6.0],
    [4.3,4.4,4.5,4.5,4.5,4.4,4.0,4.0,4.4,4.6,4.3,3.9,4.1,4.5,4.9,4.7,4.4,4.0,4.1,4.5,5.0,4.8,4.5,4.2,4.0,4.4,4.8,4.4,4.7,5.0],
    [4.1,4.3,4.5,4.5,4.4,4.3,3.9,3.9,4.3,4.6,4.8,4.6,4.3,4.1,3.9,4.2,4.6,4.6,4.4,4.6,4.9,4.6,4.3,4.4,4.8,5.1,5.0,4.6,4.8,5.0],
]
B_4m_extra = [
    [4.2,4.3,4.4,4.4,4.3,4.1,4.0,4.3,4.6,4.8,4.6,4.2,4.0,4.3,4.7,4.9,4.8,4.4,4.1,4.4,4.8,5.0,4.8,4.5,4.3,4.6,5.0,5.2,5.0,4.8],
    [4.3,4.4,4.5,4.5,4.4,4.4,4.1,3.9,4.2,4.6,4.8,4.6,4.2,4.0,4.4,4.8,4.4,4.0,4.4,4.8,4.7,4.3,4.0,4.4,4.8,4.6,4.3,4.8,5.2,5.0],
    [4.3,4.4,4.5,4.5,4.5,4.4,4.0,4.1,4.4,4.8,4.5,4.0,4.1,4.6,4.6,4.2,3.9,4.3,4.8,4.5,4.1,3.9,4.3,4.8,5.1,4.5,4.1,4.6,5.2,4.9],
    [4.2,4.3,4.4,4.4,4.3,4.2,3.9,4.2,4.6,4.4,4.0,4.3,4.8,4.6,4.2,4.0,4.4,4.9,4.6,4.1,4.4,4.9,4.6,4.2,4.4,5.0,5.0,4.4,4.6,5.1],
]
B_5m = [
    [4.1,4.3,4.5,4.4,4.2,4.0,4.1,4.3,4.5,4.7,4.8,4.7,4.5,4.3,4.2,4.3,4.5,4.7,4.8,4.9,5.0,5.0,4.3,3.5,3.6,4.2,4.8,5.2,5.4,5.3],
    [4.1,4.3,4.5,4.5,4.4,4.2,4.0,4.1,4.3,4.5,4.7,4.9,5.0,5.1,4.8,4.5,4.4,4.6,4.8,4.9,4.8,4.7,4.6,4.5,4.7,4.9,5.1,5.3,5.4,5.2],
    [4.1,4.3,4.4,4.4,4.3,4.1,3.9,3.8,4.0,4.3,4.5,4.6,4.8,5.0,4.7,4.3,4.0,3.9,4.1,4.3,4.5,4.4,4.3,4.5,4.7,4.6,4.5,4.7,4.9,4.8],
    [4.1,4.3,4.5,4.5,4.4,4.2,4.1,4.3,4.5,4.4,4.2,4.6,5.0,6.0,5.0,4.4,4.3,4.2,4.4,4.5,4.3,4.1,4.0,4.3,4.5,4.4,4.2,4.1,4.3,4.2],
    [4.1,4.3,4.5,4.5,4.4,4.3,4.2,4.0,3.9,4.0,4.2,4.4,4.3,4.1,4.0,4.2,4.4,4.5,4.6,4.7,4.8,4.6,4.4,4.3,4.5,4.7,4.8,4.6,4.5,4.6],
    [4.1,4.3,4.4,4.4,4.3,4.1,3.9,3.7,3.6,3.8,4.1,4.3,4.5,4.6,4.8,5.0,5.2,5.0,4.8,4.9,5.2,5.5,5.2,4.8,4.6,4.7,4.9,5.1,5.3,5.0],
    [4.2,4.4,4.6,4.6,4.5,4.4,4.3,4.1,3.8,3.7,3.9,4.1,4.3,4.4,4.5,4.6,4.6,4.8,5.0,4.9,4.7,4.6,4.7,4.9,5.1,5.2,5.4,5.6,5.2,4.8],
    [4.0,4.3,4.6,4.7,4.6,4.4,3.9,3.0,3.6,4.1,4.4,4.3,4.2,4.4,4.1,3.3,3.0,3.4,4.0,4.4,4.5,4.6,4.7,4.8,4.5,4.4,4.6,4.8,5.0,5.2],
]
B_5m_extra = [
    [4.1,4.3,4.5,4.5,4.4,4.3,4.4,4.6,4.8,4.6,4.4,4.5,4.7,4.9,5.0,4.8,4.6,4.5,4.7,4.9,5.1,5.2,5.0,4.8,4.9,5.1,5.3,5.5,5.6,5.3],
    [4.1,4.3,4.4,4.4,4.3,4.1,3.8,3.5,3.7,4.0,4.2,4.1,3.9,4.0,4.3,4.5,4.4,4.2,4.0,4.2,4.4,4.6,4.5,4.3,4.1,4.3,4.5,4.4,4.3,4.5],
    [4.1,4.3,4.5,4.5,4.4,4.2,4.3,4.5,4.7,4.9,5.1,5.0,4.8,4.6,4.4,4.3,4.5,4.8,5.0,5.2,5.4,5.6,5.3,5.0,4.8,4.9,5.1,5.0,4.9,5.1],
    [4.2,4.4,4.6,4.6,4.5,4.3,4.0,3.8,4.0,4.2,4.4,4.5,4.3,4.1,4.2,4.4,4.6,4.7,4.5,4.3,4.4,4.6,4.8,5.0,5.2,5.1,4.9,5.1,5.4,5.6],
]
B_6m = [
    [4.1,4.2,4.4,4.4,4.3,4.1,3.7,3.3,3.7,4.1,4.3,4.4,4.5,4.6,4.5,4.4,4.5,4.6,4.7,4.8,4.8,4.6,4.2,3.6,3.9,4.3,4.6,4.9,5.1,5.0],
    [4.1,4.2,4.4,4.4,4.3,4.2,4.1,4.2,4.4,4.5,4.6,4.7,4.8,4.9,4.8,4.6,4.5,4.6,4.7,4.8,4.8,4.7,4.6,4.6,4.7,4.8,5.0,5.2,5.3,5.1],
    [4.1,4.2,4.3,4.3,4.2,4.1,4.0,3.9,4.0,4.2,4.4,4.5,4.6,4.7,4.5,4.2,4.0,3.9,4.0,4.2,4.4,4.4,4.3,4.4,4.6,4.5,4.4,4.6,4.8,4.7],
    [4.1,4.2,4.4,4.4,4.3,4.2,4.1,4.2,4.3,4.3,4.2,4.4,4.6,4.8,4.6,4.4,4.3,4.2,4.3,4.4,4.3,4.2,4.1,4.2,4.4,4.4,4.3,4.2,4.3,4.2],
    [4.1,4.2,4.4,4.4,4.3,4.2,4.1,4.0,3.9,4.0,4.1,4.3,4.3,4.2,4.1,4.2,4.3,4.4,4.5,4.6,4.6,4.5,4.4,4.3,4.4,4.6,4.7,4.6,4.5,4.6],
    [4.1,4.2,4.3,4.3,4.2,4.1,3.9,3.8,3.7,3.9,4.1,4.2,4.4,4.5,4.6,4.8,4.9,4.8,4.7,4.8,5.0,5.2,5.0,4.7,4.5,4.6,4.8,5.0,5.1,4.9],
    [4.2,4.3,4.5,4.5,4.4,4.3,4.2,4.0,3.8,3.8,3.9,4.1,4.2,4.3,4.4,4.5,4.5,4.6,4.8,4.7,4.6,4.5,4.6,4.8,4.9,5.0,5.1,5.3,5.0,4.7],
    [4.0,4.2,4.5,4.6,4.5,4.3,4.0,3.7,3.9,4.2,4.3,4.3,4.2,4.3,4.1,3.8,3.7,3.9,4.2,4.4,4.5,4.6,4.6,4.7,4.5,4.4,4.5,4.7,4.8,5.0],
]
B_6m_extra = [
    [4.1,4.2,4.4,4.4,4.3,4.2,4.3,4.5,4.6,4.5,4.3,4.4,4.6,4.7,4.8,4.7,4.5,4.4,4.6,4.8,4.9,5.0,4.9,4.7,4.8,4.9,5.1,5.2,5.3,5.1],
    [4.1,4.2,4.3,4.3,4.2,4.1,3.9,3.7,3.8,4.0,4.1,4.0,3.9,4.0,4.2,4.3,4.3,4.1,4.0,4.1,4.3,4.4,4.4,4.2,4.1,4.2,4.4,4.3,4.2,4.4],
    [4.1,4.2,4.4,4.4,4.3,4.2,4.2,4.4,4.5,4.7,4.8,4.8,4.6,4.5,4.4,4.3,4.4,4.6,4.8,4.9,5.0,5.1,5.0,4.8,4.7,4.8,4.9,4.9,4.8,4.9],
    [4.2,4.3,4.5,4.5,4.4,4.3,4.1,3.9,4.0,4.2,4.3,4.4,4.3,4.2,4.2,4.3,4.5,4.6,4.5,4.3,4.4,4.5,4.7,4.8,4.9,4.9,4.8,4.9,5.1,5.2],
]
B_7m = [
    [4.1,4.2,4.4,4.4,4.3,4.1,3.9,3.7,3.9,4.1,4.3,4.4,4.5,4.5,4.4,4.4,4.5,4.6,4.6,4.7,4.7,4.5,4.2,3.9,4.0,4.3,4.5,4.7,4.9,4.8],
    [4.1,4.2,4.4,4.4,4.3,4.2,4.1,4.2,4.3,4.4,4.5,4.6,4.7,4.8,4.7,4.6,4.5,4.6,4.6,4.7,4.7,4.6,4.6,4.6,4.7,4.8,4.9,5.1,5.2,5.0],
    [4.1,4.2,4.3,4.3,4.2,4.1,4.0,3.9,4.0,4.2,4.3,4.4,4.5,4.6,4.4,4.2,4.0,4.0,4.1,4.2,4.3,4.3,4.3,4.4,4.5,4.5,4.4,4.5,4.7,4.6],
    [4.1,4.2,4.4,4.4,4.3,4.2,4.1,4.1,4.2,4.3,4.2,4.3,4.5,4.6,4.5,4.4,4.3,4.2,4.3,4.3,4.3,4.2,4.1,4.2,4.3,4.3,4.3,4.2,4.3,4.2],
    [4.1,4.2,4.4,4.4,4.3,4.2,4.1,4.0,4.0,4.0,4.1,4.2,4.2,4.2,4.1,4.2,4.3,4.4,4.4,4.5,4.5,4.5,4.4,4.4,4.4,4.5,4.6,4.6,4.5,4.6],
    [4.1,4.2,4.3,4.3,4.2,4.1,4.0,3.9,3.8,3.9,4.1,4.2,4.3,4.4,4.5,4.6,4.7,4.7,4.6,4.7,4.8,5.0,4.9,4.7,4.5,4.6,4.7,4.9,5.0,4.8],
    [4.2,4.3,4.5,4.5,4.4,4.3,4.2,4.0,3.9,3.9,4.0,4.1,4.2,4.3,4.3,4.4,4.5,4.6,4.7,4.7,4.6,4.5,4.6,4.7,4.8,4.9,5.0,5.1,4.9,4.7],
    [4.0,4.2,4.5,4.6,4.5,4.3,4.1,3.9,4.0,4.2,4.3,4.3,4.2,4.3,4.2,4.0,3.9,4.0,4.2,4.3,4.4,4.5,4.6,4.6,4.5,4.4,4.5,4.6,4.7,4.9],
]
B_7m_extra = [
    [4.1,4.2,4.4,4.4,4.3,4.2,4.3,4.4,4.5,4.5,4.4,4.4,4.5,4.6,4.7,4.6,4.5,4.4,4.5,4.7,4.8,4.9,4.8,4.7,4.7,4.8,4.9,5.0,5.1,5.0],
    [4.1,4.2,4.3,4.3,4.2,4.1,4.0,3.8,3.9,4.0,4.1,4.1,4.0,4.0,4.1,4.2,4.2,4.1,4.0,4.1,4.2,4.3,4.3,4.2,4.1,4.2,4.3,4.3,4.2,4.3],
    [4.1,4.2,4.4,4.4,4.3,4.2,4.2,4.3,4.4,4.6,4.7,4.7,4.6,4.5,4.4,4.3,4.4,4.5,4.7,4.8,4.9,4.9,4.8,4.7,4.6,4.7,4.8,4.8,4.8,4.9],
    [4.2,4.3,4.5,4.5,4.4,4.3,4.1,4.0,4.0,4.1,4.2,4.3,4.3,4.2,4.2,4.3,4.4,4.5,4.5,4.4,4.4,4.5,4.6,4.7,4.8,4.8,4.7,4.8,4.9,5.0],
]
B_8m = [
    [4.1,4.2,4.4,4.4,4.3,4.1,3.8,3.5,3.8,4.1,4.3,4.4,4.4,4.3,3.8,3.2,3.9,4.4,4.6,4.6,4.6,4.5,4.3,4.1,4.2,4.4,4.6,4.8,4.9,4.8],
    [4.1,4.2,4.4,4.4,4.3,4.2,4.1,4.2,4.3,4.4,4.5,4.6,4.7,4.7,4.6,4.5,4.5,4.6,4.6,4.7,4.7,4.6,4.6,4.7,4.8,4.9,5.0,5.2,5.3,5.1],
    [4.1,4.2,4.3,4.3,4.2,4.1,4.0,3.9,4.0,4.2,4.3,4.4,4.5,4.5,4.4,4.2,4.1,4.0,4.1,4.2,4.3,4.3,4.3,4.4,4.5,4.5,4.4,4.5,4.6,4.6],
    [4.1,4.2,4.4,4.4,4.3,4.2,4.1,4.1,4.2,4.3,4.2,4.3,4.4,4.5,4.5,4.4,4.3,4.2,3.8,4.3,4.3,4.2,4.1,4.2,4.3,4.3,4.3,4.2,4.3,4.2],
    [4.1,4.2,4.4,4.4,4.3,4.2,4.1,4.0,4.0,4.0,4.1,4.2,4.2,4.2,4.1,4.2,4.3,4.4,4.4,4.5,4.5,4.5,4.4,4.4,4.4,4.5,4.6,4.6,4.5,4.6],
    [4.1,4.2,4.3,4.3,4.2,4.1,4.0,3.9,3.8,3.9,4.1,4.2,4.3,4.4,4.5,4.6,4.6,4.7,4.6,4.7,4.8,4.9,4.8,4.7,4.6,4.6,4.7,4.8,4.9,4.8],
    [4.2,4.3,4.5,4.5,4.4,4.3,4.2,4.0,3.9,3.9,4.0,4.1,4.2,4.3,4.3,4.4,4.5,4.6,4.7,4.7,4.6,4.5,4.6,4.7,4.8,4.9,5.0,5.1,4.9,4.7],
    [4.0,4.2,4.5,4.6,4.5,4.3,4.1,3.9,4.0,4.2,4.3,4.3,4.2,4.3,4.2,4.0,3.9,4.0,4.2,4.3,4.4,4.5,4.6,4.6,4.5,4.4,4.5,4.6,4.7,4.9],
]
B_8m_extra = [
    [4.1,4.2,4.4,4.4,4.3,4.2,4.3,4.4,4.5,4.5,4.4,4.4,4.5,4.6,4.6,4.6,4.5,4.4,4.5,4.6,4.7,4.8,4.8,4.7,4.7,4.8,4.9,5.0,5.0,4.9],
    [4.1,4.2,4.3,4.3,4.2,4.1,4.0,3.8,3.9,4.0,4.1,4.1,4.0,4.0,4.1,4.2,4.2,4.1,4.0,4.1,4.2,4.3,4.3,4.2,4.1,4.2,4.3,4.3,4.2,4.3],
    [4.1,4.2,4.4,4.4,4.3,4.2,4.2,4.3,4.4,4.5,4.6,4.7,4.6,4.5,4.4,4.3,4.4,4.5,4.6,4.7,4.8,4.9,4.8,4.7,4.6,4.7,4.8,4.8,4.8,4.9],
    [4.2,4.3,4.5,4.5,4.4,4.3,4.1,4.0,4.0,4.1,4.2,4.3,4.3,4.2,4.2,4.3,4.4,4.5,4.5,4.4,4.4,4.5,4.6,4.7,4.8,4.8,4.7,4.8,4.9,5.0],
]
B_9m = [
    [4.1,4.3,4.6,4.5,4.4,4.3,4.2,4.1,4.2,4.3,4.4,4.4,4.5,4.5,4.2,3.5,4.0,4.3,4.4,4.4,4.5,4.5,4.4,4.4,4.5,4.6,4.7,4.8,4.9,4.7],
    [4.1,4.3,4.6,4.6,4.5,4.4,4.3,4.3,4.4,4.5,4.6,4.7,4.7,4.8,4.7,4.6,4.6,4.6,4.7,4.7,4.7,4.6,4.7,4.7,4.8,4.8,4.9,5.0,5.1,4.9],
    [4.1,4.3,4.5,4.5,4.4,4.3,4.2,4.1,4.2,4.3,4.4,4.5,4.6,4.6,4.5,4.3,4.2,4.2,4.3,4.4,4.4,4.4,4.4,4.5,4.5,4.5,4.5,4.6,4.7,4.6],
    [4.1,4.3,4.5,4.5,4.4,4.3,4.2,4.2,4.3,4.4,4.4,4.5,4.6,4.6,4.5,4.4,4.3,4.2,3.6,4.3,4.3,4.3,4.2,4.3,4.4,4.4,4.4,4.3,4.4,4.3],
    [4.1,4.3,4.5,4.5,4.4,4.3,4.2,4.1,4.1,4.2,4.2,4.3,4.3,4.3,4.2,4.3,4.4,4.4,4.5,4.5,4.5,4.5,4.4,4.4,4.5,4.5,4.6,4.6,4.5,4.5],
    [4.1,4.3,4.5,4.4,4.3,4.2,4.1,4.0,4.0,4.1,4.2,4.3,4.4,4.5,4.5,4.6,4.6,4.6,4.6,4.7,4.8,4.9,4.8,4.7,4.6,4.7,4.7,4.8,4.8,4.7],
    [4.2,4.4,4.6,4.6,4.5,4.4,4.3,4.1,4.0,4.0,4.1,4.2,4.3,4.3,4.4,4.5,4.5,4.6,4.7,4.9,5.1,5.2,4.9,4.7,4.8,4.8,4.9,5.0,4.9,4.8],
    [4.0,4.3,4.6,4.7,4.6,4.4,4.2,4.0,4.1,4.2,4.3,4.3,4.3,4.3,4.3,4.2,4.1,4.2,4.3,4.4,4.5,4.5,4.6,4.6,4.5,4.5,4.6,4.6,4.7,4.8],
]
B_9m_extra = [
    [4.1,4.3,4.5,4.5,4.4,4.3,4.3,4.4,4.5,4.5,4.4,4.4,4.5,4.6,4.6,4.6,4.5,4.5,4.5,4.6,4.7,4.8,4.8,4.7,4.7,4.8,4.9,4.9,5.0,4.9],
    [4.1,4.3,4.4,4.4,4.3,4.2,4.1,3.9,4.0,4.1,4.1,4.1,4.0,4.1,4.1,4.2,4.2,4.1,4.1,4.1,4.2,4.3,4.3,4.2,4.2,4.2,4.3,4.3,4.3,4.3],
    [4.1,4.3,4.5,4.5,4.4,4.3,4.2,4.3,4.4,4.5,4.6,4.6,4.6,4.5,4.4,4.4,4.4,4.5,4.6,4.7,4.8,4.8,4.7,4.7,4.6,4.7,4.7,4.8,4.8,4.8],
    [4.2,4.4,4.6,4.6,4.5,4.3,4.2,4.0,4.1,4.1,4.2,4.3,4.3,4.3,4.2,4.3,4.4,4.4,4.5,4.4,4.4,4.5,4.6,4.6,4.7,4.7,4.7,4.8,4.9,4.9],
]

panel_A = [A_surface, A_1m, A_2m, A_3m, A_4m, A_5m, A_6m, A_7m, A_8m, A_9m]
panel_A_extra = [A_surface_extra, A_1m_extra, A_2m_extra, A_3m_extra, A_4m_extra,
                 A_5m_extra, A_6m_extra, A_7m_extra, A_8m_extra, A_9m_extra]
panel_B = [B_surface, B_1m, B_2m, B_3m, B_4m, B_5m, B_6m, B_7m, B_8m, B_9m]
panel_B_extra = [B_surface_extra, B_1m_extra, B_2m_extra, B_3m_extra, B_4m_extra,
                 B_5m_extra, B_6m_extra, B_7m_extra, B_8m_extra, B_9m_extra]
panels = [(panel_A, panel_A_extra), (panel_B, panel_B_extra)]

# ---------------- layout geometry (pixels) ----------------
W, H = 1069, 693
col_left = [74.7, 273.3, 471.9, 670.5, 869.1]
col_w = 189.0
# (strip_top, panel_top, panel_bottom) for [panel][row]
rows_px = [
    [(9.0, 44.3, 140.7), (151.0, 186.7, 283.3)],
    [(359.0, 394.3, 490.7), (500.7, 535.7, 629.3)],
]
y_ranges = [[[-0.63, 15.8], [-0.73, 15.68]], [[-0.68, 15.8], [-0.17, 15.78]]]
x_range = [-0.45, 31.45]
x_label_standoff = [-4, -2]
x_title_px = [327, 678]

FONT = "Liberation Sans, Arial, sans-serif"
TICK_FONT = dict(family=FONT, size=21, color="#4D4D4D")


def px_x(v):
    return v / W


def px_y(v):
    return 1 - v / H


fig = go.Figure()
layout = dict(
    width=W, height=H, margin=dict(l=0, r=0, t=0, b=0, autoexpand=False),
    paper_bgcolor="white", plot_bgcolor="white", showlegend=False,
    font=dict(family=FONT), shapes=[], annotations=[],
)

k = 0
for p, (pdata, pextra) in enumerate(panels):
    for d, depth in enumerate(depths):
        r, c = divmod(d, 5)
        k += 1
        xname = "x" if k == 1 else f"x{k}"
        yname = "y" if k == 1 else f"y{k}"
        xkey = "xaxis" if k == 1 else f"xaxis{k}"
        ykey = "yaxis" if k == 1 else f"yaxis{k}"
        strip_top, ptop, pbot = rows_px[p][r]
        left = col_left[c]
        right = left + col_w
        members = [(main_idx[m], s) for m, s in enumerate(pdata[d])]
        members += [(extra_idx[m], s) for m, s in enumerate(pextra[d])]
        members.sort(key=lambda t: t[0])
        for ci, series in members:
            fig.add_trace(go.Scatter(
                x=days, y=series, mode="lines",
                line=dict(color=viridis12[ci], width=1.4),
                xaxis=xname, yaxis=yname, showlegend=False, hoverinfo="skip",
            ))
        bottom_row = (r == 1)
        left_col = (c == 0)
        layout[xkey] = dict(
            domain=[px_x(left), px_x(right)], anchor=yname, range=x_range,
            tickmode="array", tickvals=x_ticks, ticktext=[str(t) for t in x_ticks],
            showticklabels=bottom_row, ticks="outside" if bottom_row else "",
            ticklen=4, tickwidth=1, tickcolor="#333333", tickfont=TICK_FONT,
            ticklabelstandoff=x_label_standoff[p], automargin=False,
            showgrid=True, gridcolor="#EBEBEB", gridwidth=1.1,
            minor=dict(tickmode="array", tickvals=[5, 15, 25], showgrid=True,
                       gridcolor="#F2F2F2", gridwidth=0.6, ticks=""),
            showline=True, mirror=True, linecolor="#333333", linewidth=1,
            zeroline=False, fixedrange=True,
        )
        layout[ykey] = dict(
            domain=[px_y(pbot), px_y(ptop)], anchor=xname, range=y_ranges[p][r],
            tickmode="array", tickvals=y_ticks, ticktext=[str(t) for t in y_ticks],
            showticklabels=left_col, ticks="outside" if left_col else "",
            ticklen=4, tickwidth=1, tickcolor="#333333", tickfont=TICK_FONT,
            automargin=False,
            showgrid=True, gridcolor="#EBEBEB", gridwidth=1.1,
            minor=dict(tickmode="array", tickvals=[2.5, 7.5, 12.5], showgrid=True,
                       gridcolor="#F2F2F2", gridwidth=0.6, ticks=""),
            showline=True, mirror=True, linecolor="#333333", linewidth=1,
            zeroline=False, fixedrange=True,
        )
        # facet strip
        layout["shapes"].append(dict(
            type="rect", xref="paper", yref="paper",
            x0=px_x(left), x1=px_x(right), y0=px_y(ptop), y1=px_y(strip_top),
            fillcolor="#D9D9D9", line=dict(color="#333333", width=1), layer="below",
        ))
        layout["annotations"].append(dict(
            text=depth, xref="paper", yref="paper",
            x=px_x((left + right) / 2), y=px_y((strip_top + ptop) / 2),
            xanchor="center", yanchor="middle", showarrow=False,
            font=dict(family=FONT, size=22, color="#1A1A1A"),
        ))

    # axis titles and panel label
    top_px = rows_px[p][0][1]
    bot_px = rows_px[p][1][2]
    layout["annotations"].append(dict(
        text=y_title, xref="paper", yref="paper", x=px_x(22), y=px_y((top_px + bot_px) / 2),
        xanchor="center", yanchor="middle", textangle=-90, showarrow=False,
        font=dict(family=FONT, size=23, color="#000000"),
    ))
    layout["annotations"].append(dict(
        text=x_title, xref="paper", yref="paper",
        x=px_x((col_left[0] + col_left[4] + col_w) / 2), y=px_y(x_title_px[p]),
        xanchor="center", yanchor="middle", showarrow=False,
        font=dict(family=FONT, size=23, color="#000000"),
    ))
    layout["annotations"].append(dict(
        text=panel_labels[p], xref="paper", yref="paper",
        x=px_x(21), y=px_y(rows_px[p][0][0] + 11),
        xanchor="center", yanchor="middle", showarrow=False,
        font=dict(family=FONT, size=18, color="#000000"),
    ))

# faint separator between the two figures
layout["shapes"].append(dict(
    type="line", xref="paper", yref="paper", x0=0, x1=1,
    y0=px_y(349), y1=px_y(349), line=dict(color="#EFEFEF", width=1),
))

fig.update_layout(**layout)
fig.write_html("out.html")
